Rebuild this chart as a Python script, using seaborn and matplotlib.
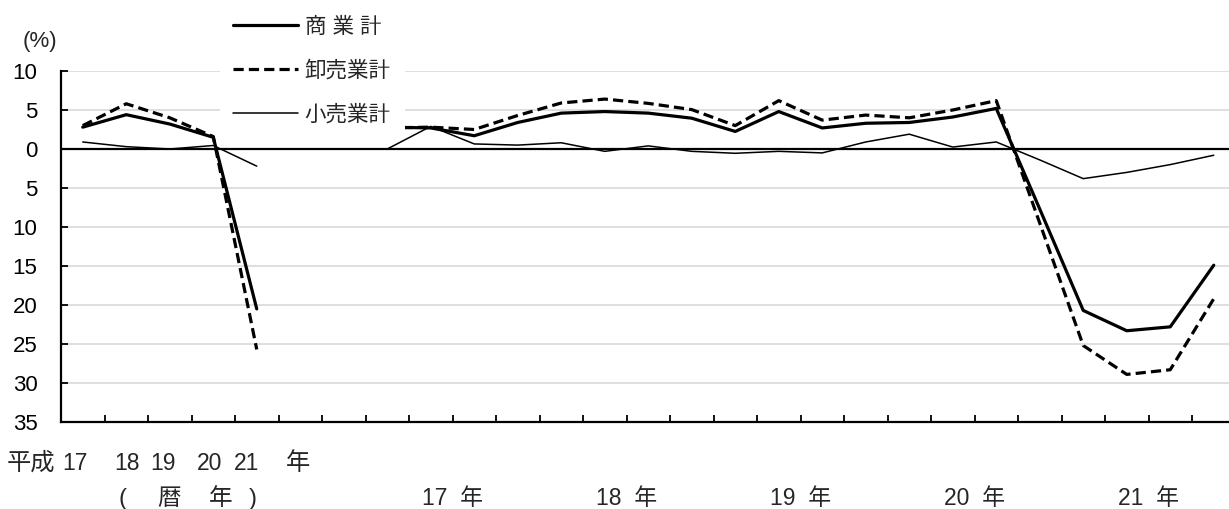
import matplotlib
matplotlib.use('Agg')
import matplotlib.pyplot as plt
import matplotlib.transforms as mtransforms
from matplotlib.lines import Line2D
from matplotlib.patches import Rectangle
import seaborn as sns
import pandas as pd
import numpy as np

sns.set_theme(style='white')
plt.rcParams['font.family'] = ['Liberation Sans', 'Noto Sans CJK JP']

# ---- data (前年同期比, %) ----
annual_years = ['17', '18', '19', '20', '21']          # 平成17-21年 (暦年)
quarter_years = ['17', '18', '19', '20', '21']         # 四半期 (各年4期)
series_names = ['商 業 計', '卸売業計', '小売業計']

commerce_annual = [2.8, 4.4, 3.2, 1.5, -20.5]
wholesale_annual = [3.0, 5.8, 4.0, 1.6, -25.7]
retail_annual = [0.9, 0.3, 0.0, 0.45, -2.2]

commerce_q = [2.8, 2.7, 1.7, 3.4, 4.6, 4.8, 4.6, 3.95, 2.25, 4.8,
              2.7, 3.3, 3.4, 4.1, 5.2, -7.7, -20.7, -23.3, -22.8, -14.9]
wholesale_q = [2.7, 2.8, 2.5, 4.3, 5.9, 6.4, 5.85, 5.05, 3.0, 6.2,
               3.7, 4.35, 4.0, 5.0, 6.2, -9.5, -25.2, -28.9, -28.3, -19.2]
retail_q = [0.0, 2.9, 0.65, 0.5, 0.8, -0.3, 0.4, -0.3, -0.55, -0.3,
            -0.5, 0.9, 1.9, 0.25, 0.9, -1.4, -3.8, -3.0, -2.0, -0.8]

# ---- long table: annual block, 2 empty slots, then quarterly block ----
gap = 2
q_start = len(annual_years) + gap
rows = []
for name, ann, qtr in zip(series_names,
                          [commerce_annual, wholesale_annual, retail_annual],
                          [commerce_q, wholesale_q, retail_q]):
    for i, v in enumerate(ann):
        rows.append((name, 'annual', i, v))
    for j, v in enumerate(qtr):
        rows.append((name, 'quarter', q_start + j, v))
df = pd.DataFrame(rows, columns=['series', 'segment', 'x', 'value'])
n_cat = q_start + len(commerce_q)

W, H = 1229, 509
def px(x, y):
    return x / W, 1 - y / H

fig = plt.figure(figsize=(W / 100, H / 100), dpi=100, facecolor='white')
ax = fig.add_axes([61 / W, (H - 422) / H, (1235.5 - 61) / W, (422 - 71) / H])

styles = {
    '商 業 計': dict(lw=2.3, linestyle='-'),
    '卸売業計': dict(lw=2.3, linestyle=(0, (3.2, 1.6))),
    '小売業計': dict(lw=1.1, linestyle='-'),
}
for name in series_names:
    sub = df[df['series'] == name]
    sns.lineplot(data=sub, x='x', y='value', units='segment', estimator=None,
                 color='black', ax=ax, legend=False, zorder=3, **styles[name])

ax.axhline(0, color='black', lw=1.6, zorder=2)

ax.set_xlim(-0.5, n_cat - 0.5)
ax.set_ylim(-35, 10)
yt = list(range(-35, 11, 5))
ax.set_yticks(yt)
ax.set_yticklabels([str(abs(v)) for v in yt])
ax.set_xticks(np.arange(0.5, n_cat - 0.5, 1))
ax.set_xticklabels([])
ax.set_xlabel('')
ax.set_ylabel('')
ax.tick_params(axis='x', direction='in', length=5, width=1.3, color='black', bottom=True)
ax.tick_params(axis='y', direction='in', length=5, width=1.3, color='black', left=True,
               labelsize=16, pad=17, labelcolor='black')
ax.yaxis.grid(True, color='#d9d9d9', lw=1.2)
ax.xaxis.grid(False)
ax.set_axisbelow(True)
for s in ['top', 'right']:
    ax.spines[s].set_visible(False)
for s in ['left', 'bottom']:
    ax.spines[s].set_color('black')
    ax.spines[s].set_linewidth(1.6)

# ---- labels ----
fig.text(*px(40, 42), '(%)', fontsize=16, ha='center', va='center')

row1 = ['平成'] + annual_years + ['年']
row1_x = [31, 75, 126.5, 163, 210, 247, 298]
for t, x in zip(row1, row1_x):
    size = 16.5 if t.isdigit() else 17.5
    fig.text(*px(x, 470), t, fontsize=size, ha='center', va='baseline')
for t, x in zip(['(', '暦', '年', ')'], [122, 169, 221, 253]):
    fig.text(*px(x, 505), t, fontsize=17, ha='center', va='baseline')

blend = mtransforms.blended_transform_factory(ax.transData, fig.transFigure)
for j, yr in enumerate(quarter_years):
    ax.text(q_start + 4 * j + 1.5, 1 - 505 / H, f'{yr}  年', transform=blend,
            fontsize=16.5, ha='center', va='baseline', clip_on=False)

# ---- legend on a white box ----
x0, y0 = px(220, 138)
fig.add_artist(Rectangle((x0, y0), 185 / W, 138 / H, transform=fig.transFigure,
                         facecolor='white', edgecolor='none', zorder=3))
handles = [Line2D([], [], color='black', **styles[n]) for n in series_names]
fig.legend(handles, series_names, loc='upper left', bbox_to_anchor=px(233, 17),
           frameon=False, fontsize=15.5, handlelength=3.0, handletextpad=0.33,
           labelspacing=1.05, borderpad=0, borderaxespad=0)

fig.savefig('out.png', dpi=100)
